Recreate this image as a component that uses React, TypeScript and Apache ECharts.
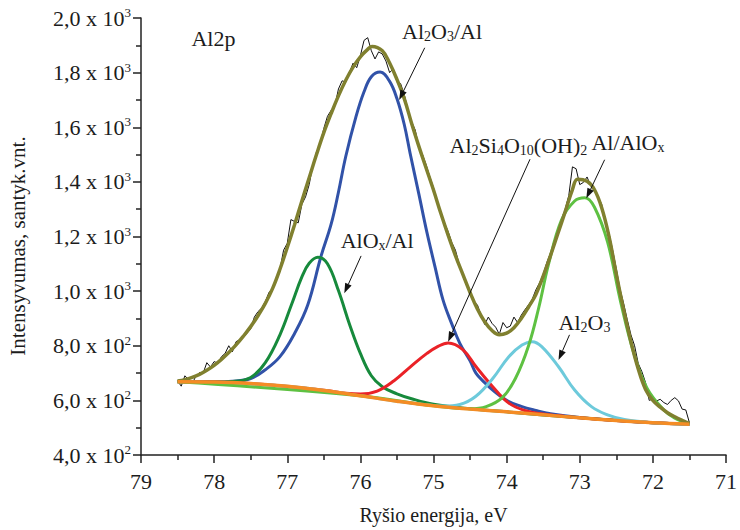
import React, { useEffect, useRef } from "react";
import * as echarts from "echarts";

// ---------- data ----------
// x tick values (eV) and y tick values (counts)
const xTicks = [79, 78, 77, 76, 75, 74, 73, 72, 71];
const yTicks = [400, 600, 800, 1000, 1200, 1400, 1600, 1800, 2000];

// raw measured spectrum (thin black)
const rawE = [78.5, 78.45, 78.4, 78.35, 78.3, 78.25, 78.2, 78.15, 78.1, 78.05, 78.0, 77.95, 77.9, 77.85, 77.8, 77.75, 77.7, 77.65, 77.6, 77.55, 77.5, 77.45, 77.4, 77.35, 77.3, 77.25, 77.2, 77.15, 77.1, 77.05, 77.0, 76.95, 76.9, 76.85, 76.8, 76.75, 76.7, 76.65, 76.6, 76.55, 76.5, 76.45, 76.4, 76.35, 76.3, 76.25, 76.2, 76.15, 76.1, 76.05, 76.0, 75.95, 75.9, 75.85, 75.8, 75.75, 75.7, 75.65, 75.6, 75.55, 75.5, 75.45, 75.4, 75.35, 75.3, 75.25, 75.2, 75.15, 75.1, 75.05, 75.0, 74.95, 74.9, 74.85, 74.8, 74.75, 74.7, 74.65, 74.6, 74.55, 74.5, 74.45, 74.4, 74.35, 74.3, 74.25, 74.2, 74.15, 74.1, 74.05, 74.0, 73.95, 73.9, 73.85, 73.8, 73.75, 73.7, 73.65, 73.6, 73.55, 73.5, 73.45, 73.4, 73.35, 73.3, 73.25, 73.2, 73.15, 73.1, 73.05, 73.0, 72.95, 72.9, 72.85, 72.8, 72.75, 72.7, 72.65, 72.6, 72.55, 72.5, 72.45, 72.4, 72.35, 72.3, 72.25, 72.2, 72.15, 72.1, 72.05, 72.0, 71.95, 71.9, 71.85, 71.8, 71.75, 71.7, 71.65, 71.6, 71.55, 71.5];
const rawI = [672, 652, 690, 676, 662, 688, 702, 700, 738, 722, 742, 736, 760, 772, 800, 778, 815, 822, 830, 846, 862, 905, 925, 938, 962, 995, 1010, 1045, 1080, 1150, 1175, 1262, 1255, 1250, 1318, 1345, 1390, 1462, 1510, 1540, 1596, 1640, 1662, 1678, 1740, 1770, 1765, 1800, 1835, 1818, 1862, 1918, 1928, 1880, 1850, 1876, 1868, 1842, 1800, 1815, 1765, 1760, 1720, 1665, 1620, 1590, 1528, 1500, 1462, 1418, 1378, 1330, 1292, 1250, 1218, 1178, 1150, 1100, 1064, 1030, 1002, 962, 950, 912, 878, 905, 882, 868, 842, 885, 866, 872, 905, 885, 912, 932, 950, 970, 1005, 1030, 1062, 1105, 1140, 1165, 1220, 1262, 1300, 1350, 1455, 1448, 1390, 1398, 1418, 1385, 1375, 1345, 1318, 1250, 1212, 1150, 1082, 1008, 955, 895, 840, 800, 735, 705, 665, 600, 605, 598, 604, 592, 585, 600, 610, 598, 568, 565, 518];

// fitted envelope (olive)
const envE = [78.5, 78.4, 78.3, 78.2, 78.1, 78.0, 77.9, 77.8, 77.7, 77.6, 77.5, 77.4, 77.3, 77.2, 77.1, 77.0, 76.9, 76.8, 76.7, 76.6, 76.5, 76.4, 76.3, 76.2, 76.1, 76.0, 75.9, 75.84, 75.7, 75.6, 75.5, 75.4, 75.3, 75.2, 75.1, 75.0, 74.9, 74.8, 74.7, 74.6, 74.5, 74.4, 74.3, 74.2, 74.1, 74.0, 73.9, 73.8, 73.7, 73.6, 73.5, 73.4, 73.3, 73.2, 73.1, 73.03, 72.9, 72.8, 72.7, 72.6, 72.5, 72.4, 72.3, 72.2, 72.1, 72.0, 71.9, 71.8, 71.7, 71.6, 71.5];
const envI = [671, 676, 684, 695, 710, 728, 750, 775, 803, 835, 870, 910, 955, 1010, 1080, 1160, 1243, 1330, 1415, 1500, 1580, 1650, 1715, 1772, 1820, 1858, 1885, 1896, 1880, 1835, 1775, 1705, 1615, 1530, 1450, 1370, 1285, 1205, 1130, 1062, 995, 935, 888, 856, 840, 846, 866, 900, 942, 988, 1055, 1130, 1210, 1290, 1372, 1410, 1402, 1372, 1305, 1200, 1062, 932, 815, 715, 640, 600, 575, 555, 540, 527, 515];

// Al2O3/Al component (blue)
const blueE = [78.5, 78.0, 77.75, 77.5, 77.3, 77.1, 76.9, 76.72, 76.54, 76.4, 76.3, 76.2, 76.06, 75.95, 75.85, 75.73, 75.6, 75.5, 75.4, 75.32, 75.2, 75.09, 74.98, 74.87, 74.75, 74.64, 74.5, 74.42, 74.3, 74.19, 74.0, 73.8, 73.6, 73.4, 73.0, 72.5, 72.0, 71.5];
const blueI = [668, 668, 670, 680, 712, 760, 845, 949, 1126, 1245, 1362, 1493, 1639, 1730, 1785, 1802, 1768, 1705, 1610, 1505, 1355, 1215, 1090, 968, 880, 809, 745, 700, 665, 638, 600, 578, 563, 551, 537, 526, 518, 513];

// AlOx/Al component (dark green)
const dgE = [78.5, 78.0, 77.75, 77.5, 77.3, 77.1, 76.94, 76.8, 76.7, 76.58, 76.45, 76.3, 76.15, 76.0, 75.85, 75.7, 75.5, 75.3, 75.0, 74.5, 74.0, 73.0, 72.0, 71.5];
const dgI = [668, 667, 669, 684, 738, 840, 952, 1052, 1102, 1124, 1100, 1002, 880, 772, 690, 650, 624, 606, 586, 569, 558, 536, 518, 513];

// Al2Si4O10(OH)2 component (red)
const redE = [78.5, 77.5, 76.5, 76.2, 76.0, 75.77, 75.54, 75.32, 75.09, 74.95, 74.8, 74.6, 74.42, 74.19, 73.97, 73.74, 73.5, 73.2, 73.0, 72.5, 72.0, 71.5];
const redI = [668, 662, 637, 626, 623, 634, 672, 722, 772, 796, 810, 786, 724, 650, 590, 562, 550, 541, 536, 526, 518, 513];

// Al2O3 component (cyan)
const cyanE = [78.5, 77.0, 76.0, 75.5, 75.0, 74.87, 74.64, 74.42, 74.19, 73.97, 73.79, 73.65, 73.52, 73.29, 73.07, 72.84, 72.62, 72.39, 72.0, 71.5];
const cyanI = [668, 652, 617, 597, 581, 579, 585, 615, 680, 760, 803, 815, 797, 723, 638, 577, 547, 530, 518, 513];

// Al/AlOx component (light green)
const lgE = [78.5, 76.0, 75.0, 74.5, 74.28, 74.06, 73.88, 73.7, 73.56, 73.43, 73.25, 73.07, 72.93, 72.8, 72.62, 72.44, 72.26, 72.08, 71.85, 71.7, 71.5];
const lgI = [668, 617, 580, 569, 577, 610, 680, 800, 940, 1095, 1260, 1330, 1342, 1308, 1180, 960, 772, 645, 565, 535, 514];

// Shirley background (orange)
const bgE = [78.5, 78.0, 77.5, 77.0, 76.5, 76.0, 75.5, 75.0, 74.5, 74.0, 73.5, 73.0, 72.5, 72.0, 71.5];
const bgI = [668, 667, 662, 652, 636, 617, 597, 580, 568, 558, 547, 536, 526, 518, 513];

// axis titles
const xTitle = "Ryšio energija, eV";
const yTitle = "Intensyvumas, santyk.vnt.";

// annotation texts (rich text), label anchor (eV, counts), arrow from/to (eV, counts)
const annTexts = [
  "{m|Al2p}",
  "{m|Al}{b|2}{m|O}{b|3}{m|/Al}",
  "{m|AlO}{b|x}{m|/Al}",
  "{m|Al}{b|2}{m|Si}{b|4}{m|O}{b|10}{m|(OH)}{b|2}",
  "{m|Al/AlO}{b|x}",
  "{m|Al}{b|2}{m|O}{b|3}",
];
const annAt = [
  [78.31, 1924],
  [75.43, 1949],
  [76.27, 1184],
  [74.78, 1535],
  [72.84, 1543],
  [73.29, 884],
];
const annFrom = [null, [75.12, 1891], [75.99, 1129], [73.68, 1483], [72.66, 1481], [73.14, 840]];
const annTo = [null, [75.47, 1700], [76.22, 992], [74.8, 815], [72.91, 1340], [73.29, 748]];

const SERIF = "Liberation Serif";
const TXT = "#1c1c1c";

const zip = (e: number[], v: number[]) => e.map((x, i) => [x, v[i]]);

function sciLabel(v: number): string {
  const exp = v >= 1000 ? 3 : 2;
  const m = (v / Math.pow(10, exp)).toFixed(1).replace(".", ",");
  return `{m|${m} x 10}{s|${exp}}`;
}

export default function App() {
  const ref = useRef<HTMLDivElement>(null);

  useEffect(() => {
    document.body.style.margin = "0";
    if (!ref.current) return;
    const chart = echarts.init(ref.current, undefined, { renderer: "svg" });

    const line = (name: string, e: number[], v: number[], color: string, width: number, smooth: number | boolean, z: number) => ({
      name,
      type: "line",
      data: zip(e, v),
      showSymbol: false,
      symbol: "none",
      smooth,
      z,
      lineStyle: { color, width },
      silent: true,
    });

    chart.setOption({
      animation: false,
      backgroundColor: "#ffffff",
      textStyle: { fontFamily: SERIF },
      grid: { left: 141, right: 7, top: 18, bottom: 75, containLabel: false },
      xAxis: {
        type: "value",
        min: xTicks[xTicks.length - 1],
        max: xTicks[0],
        interval: 1,
        inverse: true,
        name: xTitle,
        nameLocation: "middle",
        nameGap: 50,
        nameTextStyle: { fontFamily: SERIF, fontSize: 20, color: TXT },
        axisLine: { show: true, onZero: false, lineStyle: { color: "#222", width: 1.5 } },
        axisTick: { show: true, inside: false, length: 8, lineStyle: { color: "#222", width: 1.5 } },
        minorTick: { show: true, splitNumber: 2, length: 5, lineStyle: { color: "#222", width: 1.5 } },
        splitLine: { show: false },
        axisLabel: {
          margin: 14,
          formatter: (v: number) => `{m|${v}}`,
          rich: { m: { fontFamily: SERIF, fontSize: 22, color: TXT, lineHeight: 24 } },
        },
      },
      yAxis: {
        type: "value",
        min: yTicks[0],
        max: yTicks[yTicks.length - 1],
        interval: 200,
        axisLine: { show: true, onZero: false, lineStyle: { color: "#222", width: 1.5 } },
        axisTick: { show: true, inside: false, length: 8, lineStyle: { color: "#222", width: 1.5 } },
        minorTick: { show: true, splitNumber: 2, length: 5, lineStyle: { color: "#222", width: 1.5 } },
        splitLine: { show: false },
        axisLabel: {
          margin: 10,
          formatter: (v: number) => sciLabel(v),
          rich: {
            m: { fontFamily: SERIF, fontSize: 22, color: TXT, lineHeight: 24 },
            s: { fontFamily: SERIF, fontSize: 13, color: TXT, lineHeight: 13, verticalAlign: "top" },
          },
        },
      },
      series: [
        line("raw", rawE, rawI, "#111111", 1, false, 1),
        line("Al2O3/Al", blueE, blueI, "#3152a8", 3, 0.4, 2),
        line("AlOx/Al", dgE, dgI, "#178a3c", 3, 0.4, 3),
        line("Al2Si4O10(OH)2", redE, redI, "#ea2227", 3, 0.4, 4),
        line("Al2O3", cyanE, cyanI, "#6dcadb", 3, 0.4, 5),
        line("Al/AlOx", lgE, lgI, "#5ec142", 3, 0.4, 6),
        line("envelope", envE, envI, "#80802f", 3.5, 0.4, 7),
        line("background", bgE, bgI, "#f48c25", 3.5, 0.4, 8),
      ],
    });

    const toPx = (p: number[]) => chart.convertToPixel({ gridIndex: 0 }, p) as number[];
    const rich = {
      m: { fontFamily: SERIF, fontSize: 22, fill: TXT, lineHeight: 24 },
      b: { fontFamily: SERIF, fontSize: 14, fill: TXT, lineHeight: 12, verticalAlign: "bottom" },
    };
    const elements: any[] = [];
    // y axis title (rotated)
    elements.push({
      type: "text",
      x: 18,
      y: 246,
      rotation: Math.PI / 2,
      z: 100,
      style: {
        text: `{t|${yTitle}}`,
        fill: TXT,
        align: "center",
        verticalAlign: "middle",
        textAlign: "center",
        textVerticalAlign: "middle",
        rich: { t: { fontFamily: SERIF, fontSize: 21, fill: TXT, lineHeight: 24 } },
      },
    });
    annTexts.forEach((t, i) => {
      const at = toPx(annAt[i]);
      elements.push({
        type: "text",
        x: at[0],
        y: at[1],
        z: 100,
        style: {
          text: t,
          x: 0,
          y: 0,
          fill: TXT,
          fontFamily: SERIF,
          align: "left",
          verticalAlign: "middle",
          textAlign: "left",
          textVerticalAlign: "middle",
          rich,
        },
      });
      const f = annFrom[i];
      const to = annTo[i];
      if (f && to) {
        const a = toPx(f);
        const b = toPx(to);
        const dx = b[0] - a[0];
        const dy = b[1] - a[1];
        const len = Math.sqrt(dx * dx + dy * dy);
        const ux = dx / len;
        const uy = dy / len;
        const hl = 10;
        const hw = 3.5;
        const bx = b[0] - ux * hl;
        const by = b[1] - uy * hl;
        elements.push({
          type: "line",
          z: 100,
          shape: { x1: a[0], y1: a[1], x2: bx, y2: by },
          style: { stroke: "#111", lineWidth: 1 },
        });
        elements.push({
          type: "polygon",
          z: 100,
          shape: {
            points: [
              [b[0], b[1]],
              [bx - uy * hw, by + ux * hw],
              [bx + uy * hw, by - ux * hw],
            ],
          },
          style: { fill: "#111", stroke: "none" },
        });
      }
    });
    chart.setOption({ graphic: { elements } });

    return () => {
      chart.dispose();
    };
  }, []);

  return <div ref={ref} style={{ width: 740, height: 530 }} />;
}
